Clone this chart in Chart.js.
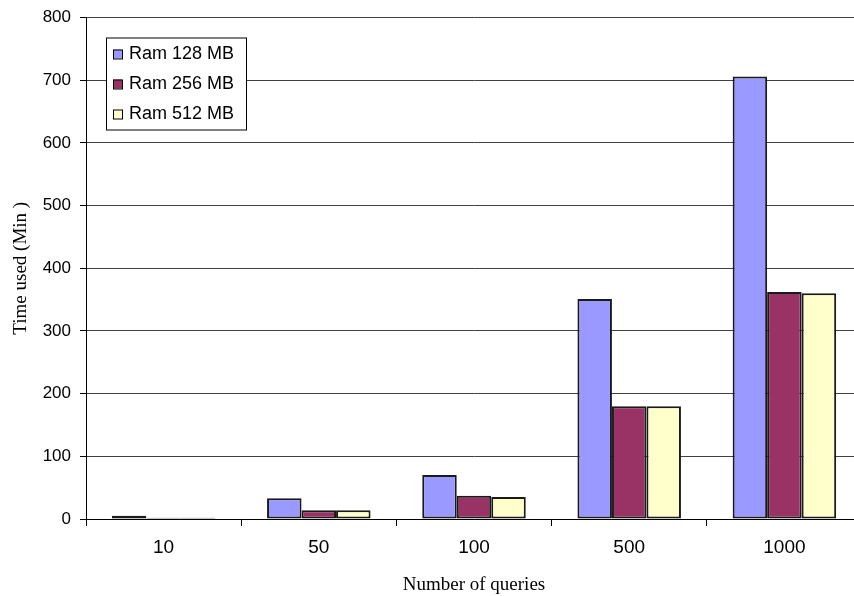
<!DOCTYPE html>
<html>
<head>
<meta charset="utf-8">
<title>Time used vs number of queries</title>
<script src="https://cdn.jsdelivr.net/npm/chart.js@4.4.1/dist/chart.umd.min.js"></script>
<style>
    html, body {
        margin: 0;
        padding: 0;
        background: #ffffff;
        overflow: hidden;
    }
    #wrap {
        width: 870px;
        height: 596px;
    }
</style>
</head>
<body>
<div id="wrap">
    <canvas id="timeChart" width="870" height="596"></canvas>
</div>
<script>
// Data
const queryCounts = ['10', '50', '100', '500', '1000'];
const ram128 = [5, 33, 70, 351, 706];
const ram256 = [2, 14, 37, 180, 362];
const ram512 = [2, 14, 35, 180, 360];
const seriesNames = ['Ram 128 MB', 'Ram 256 MB', 'Ram 512 MB'];
const seriesColors = ['#9999ff', '#993366', '#ffffcc'];

const sansFont = "'Liberation Sans', Arial, sans-serif";
const serifFont = "'Liberation Serif', 'Times New Roman', serif";

// Boxed legend drawn inside the plot area, top left
const boxedLegend = {
    id: 'boxedLegend',
    afterDraw(chart) {
        const ctx = chart.ctx;
        const area = chart.chartArea;
        const x = area.left + 20;
        const y = area.top + 20;
        const w = 140;
        const rowH = 30;
        const h = rowH * chart.data.datasets.length + 2;

        ctx.save();
        ctx.fillStyle = '#ffffff';
        ctx.fillRect(x, y, w, h);
        ctx.strokeStyle = '#000000';
        ctx.lineWidth = 1;
        ctx.strokeRect(x + 0.5, y + 0.5, w, h);

        ctx.font = '18px ' + sansFont;
        ctx.textBaseline = 'middle';
        ctx.textAlign = 'left';
        chart.data.datasets.forEach((ds, i) => {
            const cy = y + 16 + i * rowH;
            ctx.fillStyle = ds.backgroundColor;
            ctx.fillRect(x + 7, cy - 4, 9, 9);
            ctx.strokeStyle = '#000000';
            ctx.strokeRect(x + 7.5, cy - 3.5, 9, 9);
            ctx.fillStyle = '#000000';
            ctx.fillText(ds.label, x + 23, cy + 1);
        });
        ctx.restore();
    }
};

document.addEventListener('DOMContentLoaded', () => {
    const ctx = document.getElementById('timeChart').getContext('2d');
    const seriesValues = [ram128, ram256, ram512];

    new Chart(ctx, {
        type: 'bar',
        data: {
            labels: queryCounts,
            datasets: seriesValues.map((values, i) => ({
                label: seriesNames[i],
                data: values,
                backgroundColor: seriesColors[i],
                borderColor: '#1a1a1a',
                borderWidth: 2,
                borderSkipped: false,
                categoryPercentage: 0.667,
                barPercentage: 1.0
            }))
        },
        options: {
            responsive: false,
            animation: false,
            layout: {
                padding: { top: 10, right: 8, bottom: 0, left: 0 }
            },
            plugins: {
                legend: { display: false },
                tooltip: { enabled: false }
            },
            scales: {
                x: {
                    grid: {
                        offset: true,
                        drawOnChartArea: false,
                        tickLength: 7,
                        color: '#000000'
                    },
                    border: { display: true, color: '#000000', width: 1 },
                    ticks: {
                        padding: 10,
                        color: '#000000',
                        font: { size: 19, family: sansFont }
                    },
                    title: {
                        display: true,
                        text: 'Number of queries',
                        color: '#000000',
                        padding: { top: 0, bottom: 0 },
                        font: { size: 19, family: serifFont }
                    },
                    afterFit(scale) {
                        scale.height = 77;
                    }
                },
                y: {
                    min: 0,
                    max: 800,
                    ticks: {
                        stepSize: 100,
                        padding: 9,
                        color: '#000000',
                        font: { size: 17, family: sansFont, lineHeight: 1 }
                    },
                    grid: {
                        color: '#404040',
                        tickColor: '#000000',
                        tickLength: 6
                    },
                    border: { display: true, color: '#000000', width: 1 },
                    title: {
                        display: true,
                        text: 'Time used (Min )',
                        color: '#000000',
                        padding: { top: 10, bottom: 0 },
                        font: { size: 19, family: serifFont }
                    },
                    afterFit(scale) {
                        scale.width = 86;
                    }
                }
            }
        },
        plugins: [boxedLegend]
    });
});
</script>
</body>
</html>
